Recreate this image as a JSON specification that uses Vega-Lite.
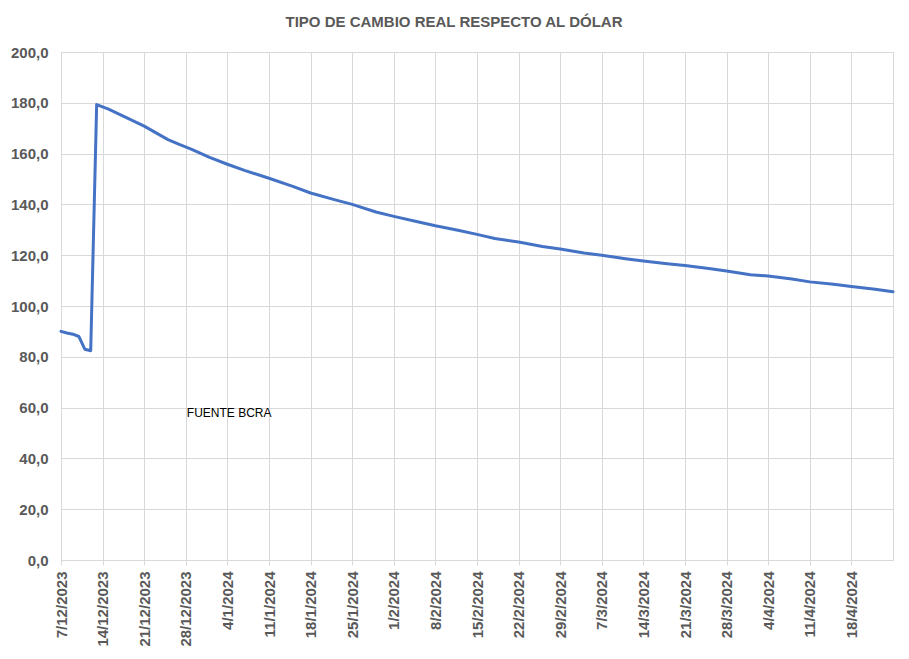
{
  "$schema": "https://vega.github.io/schema/vega-lite/v6.json",
  "autosize": {"type": "none"},
  "width": 832,
  "height": 508,
  "padding": {"left": 61, "top": 52, "right": 16, "bottom": 99},
  "background": "white",
  "title": {
    "text": "TIPO DE CAMBIO REAL RESPECTO AL DÓLAR",
    "font": "Liberation Sans",
    "fontSize": 15,
    "fontWeight": "bold",
    "color": "#595959",
    "anchor": "middle",
    "dx": -23,
    "offset": 15
  },
  "config": {
    "view": {"stroke": "#d9d9d9", "strokeWidth": 1}
  },
  "layer": [
    {
      "data": {
        "values": [
          {"date": "2023-12-07", "value": 90.0},
          {"date": "2023-12-08", "value": 89.4},
          {"date": "2023-12-09", "value": 88.9},
          {"date": "2023-12-10", "value": 88.0},
          {"date": "2023-12-11", "value": 83.0},
          {"date": "2023-12-12", "value": 82.4},
          {"date": "2023-12-13", "value": 179.3},
          {"date": "2023-12-15", "value": 177.5},
          {"date": "2023-12-18", "value": 174.2},
          {"date": "2023-12-21", "value": 170.8},
          {"date": "2023-12-25", "value": 165.5},
          {"date": "2023-12-27", "value": 163.5},
          {"date": "2023-12-29", "value": 161.7},
          {"date": "2024-01-01", "value": 158.5},
          {"date": "2024-01-04", "value": 155.8},
          {"date": "2024-01-07", "value": 153.3},
          {"date": "2024-01-11", "value": 150.3},
          {"date": "2024-01-15", "value": 147.1},
          {"date": "2024-01-18", "value": 144.5},
          {"date": "2024-01-22", "value": 141.9},
          {"date": "2024-01-25", "value": 140.0},
          {"date": "2024-01-29", "value": 137.0},
          {"date": "2024-02-01", "value": 135.3},
          {"date": "2024-02-05", "value": 133.2},
          {"date": "2024-02-08", "value": 131.6},
          {"date": "2024-02-12", "value": 129.7},
          {"date": "2024-02-15", "value": 128.2},
          {"date": "2024-02-18", "value": 126.6},
          {"date": "2024-02-22", "value": 125.2},
          {"date": "2024-02-26", "value": 123.4},
          {"date": "2024-02-29", "value": 122.4},
          {"date": "2024-03-04", "value": 120.9},
          {"date": "2024-03-07", "value": 120.0},
          {"date": "2024-03-11", "value": 118.6},
          {"date": "2024-03-14", "value": 117.7},
          {"date": "2024-03-18", "value": 116.6},
          {"date": "2024-03-21", "value": 115.9},
          {"date": "2024-03-25", "value": 114.8},
          {"date": "2024-03-28", "value": 113.8},
          {"date": "2024-04-01", "value": 112.3},
          {"date": "2024-04-04", "value": 111.8},
          {"date": "2024-04-08", "value": 110.6},
          {"date": "2024-04-11", "value": 109.5},
          {"date": "2024-04-15", "value": 108.6},
          {"date": "2024-04-18", "value": 107.7},
          {"date": "2024-04-22", "value": 106.6},
          {"date": "2024-04-25", "value": 105.6}
        ]
      },
      "mark": {"type": "line", "color": "#4472C4", "strokeWidth": 3, "strokeJoin": "round", "strokeCap": "round"},
      "encoding": {
        "x": {
          "field": "date",
          "type": "temporal",
          "scale": {
            "type": "utc",
            "nice": false,
            "domain": [
              {"year": 2023, "month": 12, "date": 7, "utc": true},
              {"year": 2024, "month": 4, "date": 25, "utc": true}
            ]
          },
          "axis": {
            "title": null,
            "values": [
              {"year": 2023, "month": 12, "date": 7, "utc": true},
              {"year": 2023, "month": 12, "date": 14, "utc": true},
              {"year": 2023, "month": 12, "date": 21, "utc": true},
              {"year": 2023, "month": 12, "date": 28, "utc": true},
              {"year": 2024, "month": 1, "date": 4, "utc": true},
              {"year": 2024, "month": 1, "date": 11, "utc": true},
              {"year": 2024, "month": 1, "date": 18, "utc": true},
              {"year": 2024, "month": 1, "date": 25, "utc": true},
              {"year": 2024, "month": 2, "date": 1, "utc": true},
              {"year": 2024, "month": 2, "date": 8, "utc": true},
              {"year": 2024, "month": 2, "date": 15, "utc": true},
              {"year": 2024, "month": 2, "date": 22, "utc": true},
              {"year": 2024, "month": 2, "date": 29, "utc": true},
              {"year": 2024, "month": 3, "date": 7, "utc": true},
              {"year": 2024, "month": 3, "date": 14, "utc": true},
              {"year": 2024, "month": 3, "date": 21, "utc": true},
              {"year": 2024, "month": 3, "date": 28, "utc": true},
              {"year": 2024, "month": 4, "date": 4, "utc": true},
              {"year": 2024, "month": 4, "date": 11, "utc": true},
              {"year": 2024, "month": 4, "date": 18, "utc": true}
            ],
            "labelExpr": "utcFormat(datum.value, '%-d/%-m/%Y')",
            "labelAngle": -90,
            "labelFont": "Liberation Sans",
            "labelFontSize": 15,
            "labelFontWeight": "bold",
            "labelColor": "#595959",
            "labelPadding": 6,
            "labelOverlap": false,
            "grid": true,
            "gridColor": "#d9d9d9",
            "gridWidth": 1,
            "domainColor": "#d9d9d9",
            "tickColor": "#d9d9d9",
            "tickSize": 5
          }
        },
        "y": {
          "field": "value",
          "type": "quantitative",
          "scale": {"domain": [0, 200], "nice": false},
          "axis": {
            "title": null,
            "values": [0, 20, 40, 60, 80, 100, 120, 140, 160, 180, 200],
            "labelExpr": "replace(format(datum.value, '.1f'), '.', ',')",
            "labelFont": "Liberation Sans",
            "labelFontSize": 15,
            "labelFontWeight": "bold",
            "labelColor": "#595959",
            "labelPadding": 13,
            "ticks": false,
            "domain": false,
            "grid": true,
            "gridColor": "#d9d9d9",
            "gridWidth": 1
          }
        }
      }
    },
    {
      "data": {"values": [{"date": "2023-12-28", "value": 58, "label": "FUENTE BCRA"}]},
      "mark": {"type": "text", "align": "left", "baseline": "middle", "font": "Liberation Sans", "fontSize": 12, "color": "#000000", "dx": 1},
      "encoding": {
        "x": {"field": "date", "type": "temporal"},
        "y": {"field": "value", "type": "quantitative"},
        "text": {"field": "label"}
      }
    }
  ]
}
